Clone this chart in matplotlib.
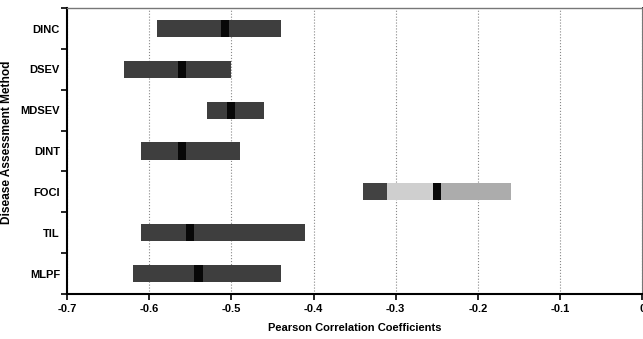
import matplotlib.pyplot as plt
import numpy as np

plt.rcParams['font.family'] = ['Liberation Sans', 'DejaVu Sans']
plt.rcParams['font.weight'] = 'bold'

# data
methods = ['DINC', 'DSEV', 'MDSEV', 'DINT', 'FOCI', 'TIL', 'MLPF']
low = [-0.59, -0.63, -0.53, -0.61, -0.34, -0.61, -0.62]
high = [-0.44, -0.50, -0.46, -0.49, -0.16, -0.41, -0.44]
median = [-0.508, -0.56, -0.50, -0.56, -0.25, -0.55, -0.54]
# FOCI bar is split in shaded pieces
foci_breaks = [-0.34, -0.31, -0.25, -0.16]
foci_colors = ['#424242', '#cfcfcf', '#acacac']

bar_col = '#3e3e3e'
med_col = '#080808'
med_w = 0.01

fig = plt.figure(figsize=(6.43, 3.39), dpi=100)
ax = fig.add_axes([0.104, 0.133, 0.895, 0.843])

y = np.arange(len(methods))[::-1]
h = 0.42
for i, m in enumerate(methods):
    if m == 'FOCI':
        for k in range(len(foci_colors)):
            ax.barh(y[i], foci_breaks[k + 1] - foci_breaks[k], left=foci_breaks[k],
                    height=h, color=foci_colors[k], zorder=3)
    else:
        ax.barh(y[i], high[i] - low[i], left=low[i], height=h, color=bar_col, zorder=3)
    ax.barh(y[i], med_w, left=median[i] - med_w / 2, height=h, color=med_col, zorder=4)

ax.set_xlim(-0.7, 0)
ax.set_ylim(-0.5, len(methods) - 0.5)
ax.set_xticks(np.arange(-0.7, 0.01, 0.1))
ax.set_xticklabels(['%.1f' % v if abs(v) > 1e-9 else '0' for v in np.arange(-0.7, 0.01, 0.1)])
ax.set_yticks(y)
ax.set_yticklabels(methods)
ax.set_yticks(np.arange(-0.5, len(methods), 1.0), minor=True)
ax.tick_params(axis='y', which='major', length=0, pad=5, labelsize=8)
ax.tick_params(axis='y', which='minor', length=4, width=1.2, direction='out', right=True)
ax.tick_params(axis='x', which='major', length=4, width=1.2, labelsize=8, pad=3)
for lab in ax.get_xticklabels() + ax.get_yticklabels():
    lab.set_fontweight('bold')

ax.xaxis.grid(True, linestyle=':', color='#888888', linewidth=0.8, zorder=0)

for s in ['left', 'bottom']:
    ax.spines[s].set_linewidth(1.5)
ax.spines['top'].set_color('#777777')
ax.spines['top'].set_linewidth(1.0)
ax.spines['right'].set_color('#777777')

ax.set_xlabel('Pearson Correlation Coefficients', fontsize=8, fontweight='bold', labelpad=7)
ax.set_ylabel('Disease Assessment Method', fontsize=8.6, fontweight='bold')
ax.yaxis.set_label_coords(-0.094, 0.53)

fig.savefig('out.png', dpi=100)
